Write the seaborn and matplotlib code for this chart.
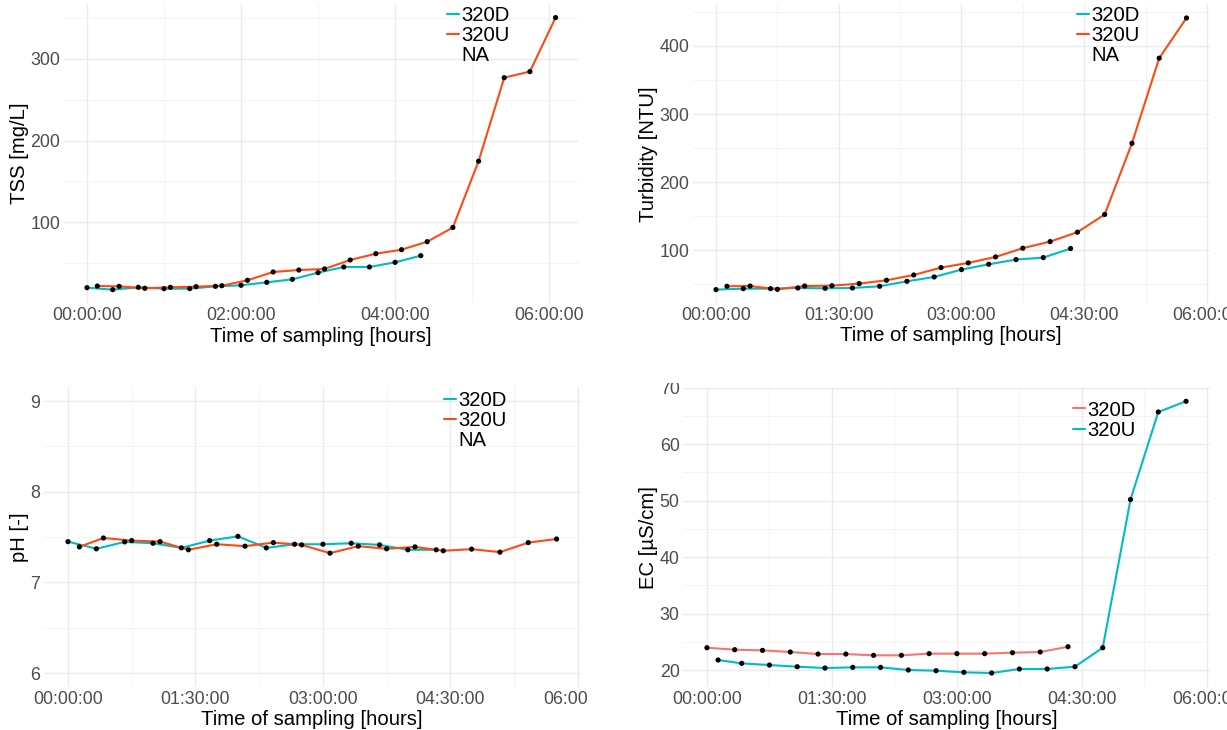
import numpy as np
import pandas as pd
import matplotlib
matplotlib.use("Agg")
import matplotlib.pyplot as plt
import seaborn as sns
from matplotlib.ticker import MultipleLocator, FuncFormatter
from matplotlib.lines import Line2D
from matplotlib.transforms import Bbox, TransformedBbox

# ---------------- data (times in minutes since start) ----------------
t_320D = [0, 20, 40, 60, 80, 100, 120, 140, 160, 180, 200, 220, 240, 260]
t_320U_long = [8, 25, 45, 65, 85, 105, 125, 145, 165, 185, 205, 225, 245, 265,
               285, 305, 325, 345, 365]
t_320U = [8, 25, 45, 65, 85, 105, 125, 145, 165, 185, 205, 225, 245, 265,
          285, 305, 325, 345]

tss_320D = [19.8, 17.3, 20.2, 18.6, 18.6, 21.4, 22.7, 26.3, 30.0, 38.2, 45.1, 45.1, 50.8, 59.0]
tss_320U = [21.8, 21.4, 19.0, 20.2, 21.0, 22.2, 28.8, 39.0, 41.4, 42.7, 53.7, 61.4, 66.3, 76.1,
            93.5, 174.7, 277.0, 284.5, 350.6]

turb_320D = [42.2, 43.6, 43.6, 44.6, 44.1, 44.6, 47.1, 54.4, 60.8, 71.6, 79.4, 86.3, 89.2, 102.5]
turb_320U = [47.1, 47.5, 42.6, 47.5, 48.0, 51.0, 55.9, 63.7, 74.5, 81.4, 90.2, 103.0, 112.7, 126.5,
             152.5, 257.0, 382.0, 441.0]

ph_320D = [7.449, 7.370, 7.446, 7.431, 7.380, 7.460, 7.507, 7.380, 7.420, 7.420, 7.431, 7.413,
           7.359, 7.359]
ph_320U = [7.391, 7.489, 7.460, 7.449, 7.359, 7.420, 7.399, 7.438, 7.413, 7.322, 7.399, 7.370,
           7.391, 7.348, 7.366, 7.333, 7.438, 7.478]

ec_320D = [23.95, 23.60, 23.48, 23.19, 22.83, 22.83, 22.60, 22.60, 22.90, 22.90, 22.90, 23.07,
           23.19, 24.13]
ec_320U = [21.77, 21.18, 20.88, 20.59, 20.35, 20.47, 20.47, 20.00, 19.88, 19.59, 19.47, 20.18,
           20.18, 20.59, 23.95, 50.20, 65.70, 67.60]

sites = ["320D", "320U"]


def frame(tD, vD, tU, vU):
    d1 = pd.DataFrame({"hours": np.array(tD) / 60.0, "value": vD, "site": "320D"})
    d2 = pd.DataFrame({"hours": np.array(tU) / 60.0, "value": vU, "site": "320U"})
    return pd.concat([d1, d2], ignore_index=True)


# ---------------- style ----------------
sns.set_theme(style="white")
plt.rcParams["font.family"] = ["Liberation Sans", "DejaVu Sans"]

W, H = 1227, 730
fig = plt.figure(figsize=(W / 100, H / 100), dpi=100)
fig.patch.set_facecolor("white")

TEAL = "#00BCC4"
ORANGE = "#FF4A12"
SALMON = "#F8766D"


def add_axes(l, r, t, b):
    return fig.add_axes([l / W, 1 - b / H, (r - l) / W, (b - t) / H])


def hms(v, pos=None):
    total = int(round(v * 3600))
    h = total // 3600
    m = (total % 3600) // 60
    s = total % 60
    return f"{h:02d}:{m:02d}:{s:02d}"


def style(ax, xmaj, ymaj, ylabel):
    for sp in ax.spines.values():
        sp.set_visible(False)
    ax.set_facecolor("white")
    ax.xaxis.set_major_locator(MultipleLocator(xmaj))
    ax.xaxis.set_minor_locator(MultipleLocator(xmaj / 2))
    ax.yaxis.set_major_locator(MultipleLocator(ymaj))
    ax.yaxis.set_minor_locator(MultipleLocator(ymaj / 2))
    ax.xaxis.set_major_formatter(FuncFormatter(hms))
    ax.yaxis.set_major_formatter(FuncFormatter(lambda v, p: f"{v:g}"))
    ax.grid(which="major", color="#EBEBEB", linewidth=1.0)
    ax.grid(which="minor", color="#F2F2F2", linewidth=0.6)
    ax.set_axisbelow(True)
    ax.tick_params(axis="both", which="both", length=0, labelsize=12.8,
                   labelcolor="#4D4D4D")
    ax.tick_params(axis="x", pad=3)
    ax.tick_params(axis="y", pad=2.5)
    ax.set_xlabel("Time of sampling [hours]", fontsize=14.6, color="black", labelpad=1.5)
    ax.set_ylabel(ylabel, fontsize=14.6, color="black", labelpad=1.0)


def draw(ax, df, palette):
    sns.lineplot(data=df, x="hours", y="value", hue="site", palette=palette,
                 hue_order=sites, ax=ax, legend=False, linewidth=1.5,
                 estimator=None, sort=True)
    sns.scatterplot(data=df, x="hours", y="value", color="black", s=14,
                    edgecolor="none", ax=ax, legend=False, zorder=3)


def legend(ax, x, y, entries):
    handles = []
    labels = []
    for lab, col in entries:
        handles.append(Line2D([], [], color=col if col else "none", linewidth=1.5))
        labels.append(lab)
    ax.legend(handles, labels, loc="upper left",
              bbox_to_anchor=(x / W, 1 - y / H), bbox_transform=fig.transFigure,
              frameon=False, fontsize=14.6, handlelength=0.6, handletextpad=0.1,
              labelspacing=0.06, borderpad=0, borderaxespad=0, labelcolor="black")


def clip_labels(labels, x0, y0, x1, y1):
    box = TransformedBbox(Bbox.from_extents(x0 / W, 1 - y1 / H, x1 / W, 1 - y0 / H),
                          fig.transFigure)
    for t in labels:
        t.set_clip_box(box)
        t.set_clip_on(True)


pal_top = {"320D": TEAL, "320U": ORANGE}
pal_ec = {"320D": SALMON, "320U": TEAL}

# ---- TSS ----
ax1 = add_axes(63.6, 579, 4, 303.3)
draw(ax1, frame(t_320D, tss_320D, t_320U_long, tss_320U), pal_top)
style(ax1, 2, 100, "TSS [mg/L]")
legend(ax1, 447, 6, [("320D", TEAL), ("320U", ORANGE), ("NA", None)])

# ---- Turbidity ----
ax2 = add_axes(692.5, 1210, 4.4, 303.2)
draw(ax2, frame(t_320D, turb_320D, t_320U, turb_320U), pal_top)
style(ax2, 1.5, 100, "Turbidity [NTU]")
legend(ax2, 1077, 6, [("320D", TEAL), ("320U", ORANGE), ("NA", None)])

# ---- pH ----
ax3 = add_axes(43.6, 581, 387.4, 686.6)
draw(ax3, frame(t_320D, ph_320D, t_320U, ph_320U), pal_top)
style(ax3, 1.5, 1, "pH [-]")
ax3.set_ylim(6 - 0.15, 9 + 0.15)
ax3.yaxis.set_minor_locator(MultipleLocator(0.5))
legend(ax3, 444, 391, [("320D", TEAL), ("320U", ORANGE), ("NA", None)])

# ---- EC ----
ax4 = add_axes(683, 1210, 387.7, 686.6)
draw(ax4, frame(t_320D, ec_320D, t_320U, ec_320U), pal_ec)
style(ax4, 1.5, 10, "EC [µS/cm]")
legend(ax4, 1073, 400.5, [("320D", SALMON), ("320U", TEAL)])

fig.canvas.draw()
clip_labels(ax3.get_xticklabels(), 0, 0, 587, H)
clip_labels(ax4.get_yticklabels(), 0, 383, W, H)

fig.savefig("out.png", dpi=100, facecolor="white")
